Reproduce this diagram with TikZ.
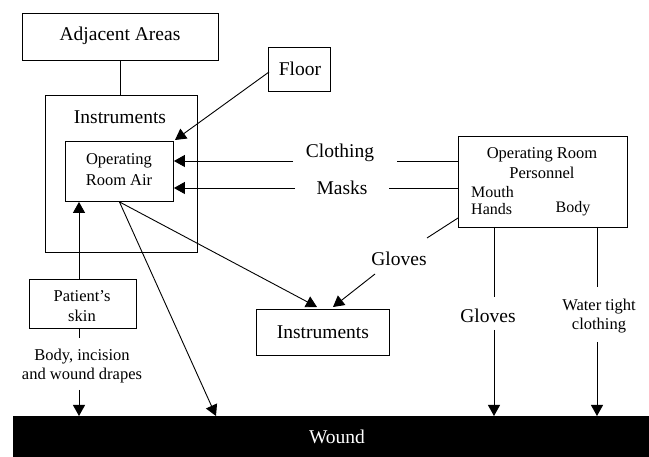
\documentclass[tikz,border=0pt]{standalone}
\usepackage{fontspec}
\setmainfont{Liberation Serif}
\usetikzlibrary{arrows.meta}
\begin{document}
\begin{tikzpicture}[x=1pt,y=-1pt,
 box/.style={draw,line width=0.9pt,inner sep=0pt,anchor=north west},
 big/.style={font=\fontsize{19.5}{22}\selectfont,inner sep=0pt},
 small/.style={font=\fontsize{16.5}{20}\selectfont,inner sep=0pt,align=center},
 conn/.style={line width=0.9pt},
 arr/.style={conn,-{Triangle[length=11pt,width=12pt]}}]
\useasboundingbox (0,0) rectangle (649,457);
% boxes
\node[box,minimum width=196pt,minimum height=47pt] (adj) at (22,13) {};
\node[box,minimum width=152pt,minimum height=157pt] (outer) at (45,95) {};
\node[box,minimum width=108pt,minimum height=60pt] (inner) at (65,141) {};
\node[box,minimum width=62pt,minimum height=44pt] (floor) at (268,47) {};
\node[box,minimum width=169pt,minimum height=91pt] (orp) at (458,136) {};
\node[box,minimum width=107pt,minimum height=49pt] (patient) at (29,279) {};
\node[box,minimum width=133pt,minimum height=46pt] (instr) at (256,309) {};
\node[box,fill=black,minimum width=636pt,minimum height=41pt] (wound) at (13,416) {};
% texts
\node[big] (adjT) at (120,36) {Adjacent Areas};
\node[big] (outerT) at (120,117) {Instruments};
\node[small,font=\fontsize{16.5}{21}\selectfont] (innerT) at (119,170) {Operating\\Room Air};
\node[big] (floorT) at (300,69) {Floor};
\node[small] (orpT) at (542,163) {Operating Room\\Personnel};
\node[small,font=\fontsize{16}{17}\selectfont,anchor=west,align=left] (mouthT) at (471,201) {Mouth\\Hands};
\node[small,font=\fontsize{16}{17}\selectfont] (bodyT) at (573,209) {Body};
\node[small] (patT) at (82,306) {Patient’s\\skin};
\node[big] (instrT) at (instr.center) {Instruments};
\node[big,text=white] (woundT) at (337,437) {Wound};
\node[big] (clothT) at (340,153) {Clothing};
\node[big] (masksT) at (342,188) {Masks};
\node[big] (glovesT) at (399,259) {Gloves};
\node[big] (glovesR) at (488,316) {Gloves};
\node[small,font=\fontsize{16.5}{19}\selectfont] (waterT) at (599,316) {Water tight\\clothing};
\node[small,font=\fontsize{16.5}{19}\selectfont] (drapesT) at (82,366) {Body, incision\\and wound drapes};
% coordinates
\coordinate (floorOut) at (269,72);
\coordinate (floorIn) at (175,140);
\coordinate (clothR) at (397,161);
\coordinate (clothL) at (293,161);
\coordinate (masksR) at (389,188);
\coordinate (masksL) at (295,188);
\coordinate (g0) at (458,218);
\coordinate (g1) at (427,238);
\coordinate (g2) at (375,274);
\coordinate (g3) at (333,307);
\coordinate (i1) at (317,307);
\coordinate (w1) at (216,416);
\coordinate (patUp) at (79,279);
\coordinate (patDown) at (79,328);
\coordinate (drTop) at (79,338);
\coordinate (drBot) at (79,390);
\coordinate (hTop) at (494,227);
\coordinate (hMid1) at (494,297);
\coordinate (hMid2) at (494,330);
\coordinate (bTop) at (597,227);
\coordinate (bMid1) at (597,287);
\coordinate (bMid2) at (597,342);
% connectors
\draw[conn] (adj.south) -- (adj.south |- outer.north);
\draw[arr] (floorOut) -- (floorIn);
\draw[conn] (clothR) -- (clothR -| orp.west);
\draw[arr] (clothL) -- (clothL -| inner.east);
\draw[conn] (masksR) -- (masksR -| orp.west);
\draw[arr] (masksL) -- (masksL -| inner.east);
\draw[conn] (g0) -- (g1);
\draw[arr] (g2) -- (g3);
\draw[arr] (inner.south) -- (i1);
\draw[arr] (inner.south) -- (w1);
\draw[arr] (patUp) -- (patUp |- inner.south);
\draw[conn] (patDown) -- (drTop);
\draw[arr] (drBot) -- (drBot |- wound.north);
\draw[conn] (hTop) -- (hMid1);
\draw[arr] (hMid2) -- (hMid2 |- wound.north);
\draw[conn] (bTop) -- (bMid1);
\draw[arr] (bMid2) -- (bMid2 |- wound.north);
\end{tikzpicture}
\end{document}
